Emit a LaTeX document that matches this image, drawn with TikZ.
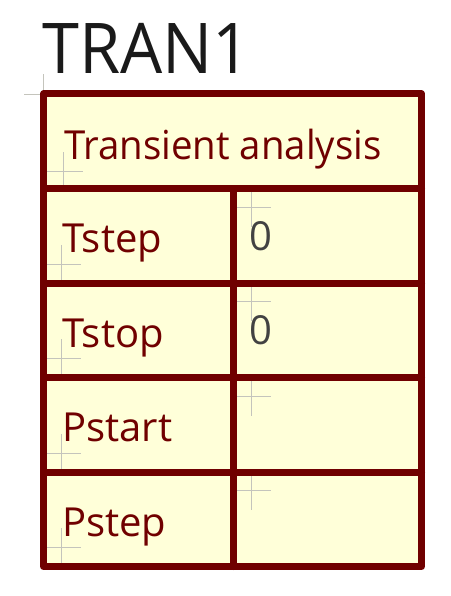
\documentclass[tikz,border=0pt]{standalone}
\usepackage{fontspec}
\setmainfont{Open Sans}
\definecolor{bordercol}{HTML}{700000}
\definecolor{fillcol}{HTML}{FFFFD9}
\definecolor{crosscol}{HTML}{C4C4BC}
\definecolor{valcol}{HTML}{424242}
\definecolor{titlecol}{HTML}{1A1A1A}
\begin{document}
\begin{tikzpicture}[x=1pt,y=-1pt,
  border/.style={draw=bordercol,line width=7pt,line join=round,line cap=round},
  cross/.style={draw=crosscol,line width=0.9pt},
  lbl/.style={anchor=base west,inner sep=0pt,text=bordercol,font=\fontsize{40}{40}\selectfont},
  val/.style={anchor=base west,inner sep=0pt,text=valcol,font=\fontsize{40}{40}\selectfont},
  ttl/.style={anchor=base west,inner sep=0pt,text=titlecol,font=\fontsize{70}{70}\selectfont}]
\useasboundingbox (0,0) rectangle (450,596);
% fill
\fill[fillcol] (43.5,94) rectangle (421.5,566.5);
% crosshairs
\foreach \cx/\cy in {43.5/94, 63.3/171.7, 61.7/264.4, 61.7/358.9, 61.7/453.4, 61.7/547.9,
                     251.7/207, 251.7/301.7, 251.7/396.2, 251.7/490.7}{
  \draw[cross] (\cx-19.5,\cy) -- (\cx+19.5,\cy);
  \draw[cross] (\cx,\cy-19.5) -- (\cx,\cy+19.5);
}
% texts
\node[ttl] (title) at (42,74) {\scalebox{0.952}[1]{TRAN1}};
\node[lbl] (ta) at (64,160) {\scalebox{0.96}[1]{Transient analysis}};
\node[lbl] (l1) at (62,252.7) {Tstep};
\node[lbl] (l2) at (62,347.2) {Tstop};
\node[lbl] (l3) at (62,441.7) {Pstart};
\node[lbl] (l4) at (62,536.2) {Pstep};
\node[val] (v1) at (249.5,250) {0};
\node[val] (v2) at (249.5,344.5) {0};
% lines
\draw[border] (43.5,94) rectangle (421.5,566.5);
\foreach \yy in {188.5,283,377.5,472}{
  \draw[border] (43.5,\yy) -- (421.5,\yy);
}
\draw[border] (233,188.5) -- (233,566.5);
\end{tikzpicture}
\end{document}
